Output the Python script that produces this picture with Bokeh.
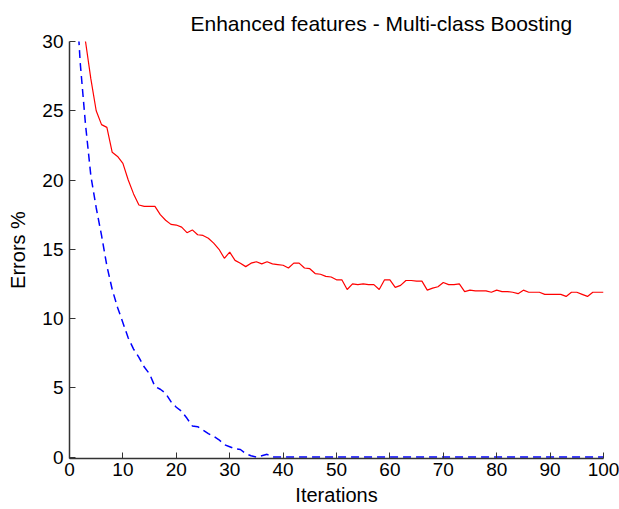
from bokeh.plotting import figure
from bokeh.models import Range1d, FixedTicker
from bokeh.embed import file_html
from bokeh.resources import INLINE

# ---- data ----
iterations = list(range(1, 101))
train_error = [
    34.0, 32.0, 30.0, 27.3, 25.0, 24.0, 23.8, 22.0, 21.7, 21.2,
    20.0, 19.0, 18.2, 18.1, 18.1, 18.1, 17.5, 17.1, 16.8, 16.75,
    16.6, 16.2, 16.4, 16.05, 16.0, 15.8, 15.45, 15.0, 14.35, 14.8,
    14.2, 14.0, 13.75, 14.0, 14.1, 13.95, 14.1, 13.95, 13.9, 13.85,
    13.65, 14.0, 14.0, 13.65, 13.6, 13.25, 13.2, 13.05, 13.0, 12.8,
    12.8, 12.1, 12.5, 12.45, 12.5, 12.45, 12.45, 12.1, 12.8, 12.8,
    12.25, 12.4, 12.75, 12.75, 12.7, 12.7, 12.05, 12.2, 12.3, 12.6,
    12.45, 12.45, 12.5, 11.95, 12.05, 12.0, 12.0, 12.0, 11.9, 12.05,
    11.95, 11.95, 11.9, 11.8, 12.05, 11.9, 11.9, 11.9, 11.75, 11.75,
    11.75, 11.75, 11.6, 11.9, 11.9, 11.75, 11.6, 11.9, 11.9, 11.9,
]
blue_error = [
    35.0, 28.5, 24.0, 20.3, 18.0, 16.0, 13.8, 12.1, 10.8, 9.7,
    8.6, 7.8, 7.2, 6.5, 6.0, 5.1, 4.9, 4.6, 4.0, 3.6,
    3.3, 2.8, 2.25, 2.2, 1.95, 1.7, 1.5, 1.25, 0.9, 0.75,
    0.6, 0.55, 0.25, 0.1, 0.0, 0.1, 0.2, 0.0, 0.0, 0.0,
] + [0.0] * 60
x_ticks = list(range(0, 101, 10))
y_ticks = list(range(0, 31, 5))
title_text = "Enhanced features - Multi-class Boosting"

FONT = "Liberation Sans"

p = figure(width=619, height=509, output_backend="svg", toolbar_location=None,
           x_range=Range1d(0, 100), y_range=Range1d(-0.1, 30),
           min_border_left=69, min_border_right=16, min_border_top=41,
           min_border_bottom=51, title=title_text)
p.background_fill_color = "white"
p.border_fill_color = "white"
p.outline_line_color = None
p.grid.visible = False

p.title.align = "left"
p.title.offset = 121
p.title.standoff = 14
p.title.text_font = FONT
p.title.text_font_size = "21px"
p.title.text_font_style = "normal"
p.title.text_color = "black"

p.line(iterations, train_error, line_color="#ff0000", line_width=1.2)
p.line(iterations, blue_error, line_color="#0000ff", line_width=1.5, line_dash="8 5")

for ax, ticks, label in ((p.xaxis[0], x_ticks, "Iterations"), (p.yaxis[0], y_ticks, "Errors %")):
    ax.ticker = FixedTicker(ticks=ticks)
    ax.major_tick_in = 6
    ax.major_tick_out = 0
    ax.minor_tick_line_color = None
    ax.axis_line_color = "#333333"
    ax.axis_line_width = 1.5
    ax.major_tick_line_color = "#333333"
    ax.major_label_text_font = FONT
    ax.major_label_text_font_size = "19px"
    ax.major_label_text_color = "black"
    ax.axis_label = label
    ax.axis_label_text_font = FONT
    ax.axis_label_text_font_size = "20px"
    ax.axis_label_text_font_style = "normal"
    ax.axis_label_text_color = "black"

p.xaxis.major_label_standoff = 4
p.xaxis.axis_label_standoff = 5
p.yaxis.major_label_standoff = 6
p.yaxis.axis_label_standoff = 10

open("out.html", "w").write(file_html(p, INLINE))
